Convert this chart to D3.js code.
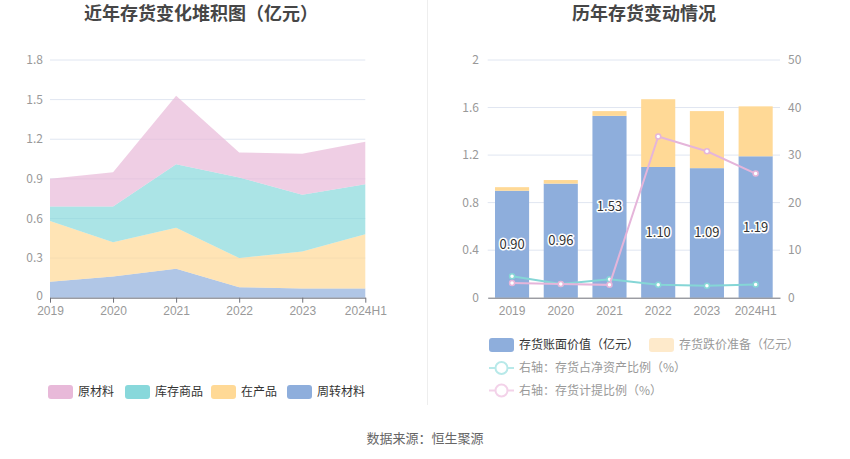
<!DOCTYPE html>
<html><head><meta charset="utf-8">
<script src="https://cdn.jsdelivr.net/npm/d3@7"></script>
<style>
html,body{margin:0;padding:0;background:#fff;}
svg{display:block;font-family:"Noto Sans CJK SC","Noto Sans",sans-serif;}
</style></head>
<body>
<svg id="c" width="850" height="459"></svg>
<script>
// ---- data ----
const years = ["2019","2020","2021","2022","2023","2024H1"];
// left stacked chart (亿元)
const zhouzhuan = [0.12,0.16,0.22,0.08,0.07,0.07];   // 周转材料
const zaichanpin = [0.46,0.26,0.31,0.22,0.28,0.41];  // 在产品
const kucun = [0.11,0.27,0.48,0.61,0.43,0.38];       // 库存商品
const yuancailiao = [0.21,0.26,0.52,0.19,0.31,0.32]; // 原材料
const leftTicks = [0,0.3,0.6,0.9,1.2,1.5,1.8];
// right chart
const bookValue = [0.90,0.96,1.53,1.10,1.09,1.19];   // 存货账面价值
const reserve = [0.03,0.03,0.04,0.57,0.48,0.42];     // 存货跌价准备
const ratioNetAsset = [4.5,2.9,3.9,2.7,2.5,2.8];      // 存货占净资产比例
const ratioReserve = [3.1,2.9,2.7,33.9,30.8,26.1];    // 存货计提比例
const rightTicksL = [0,0.4,0.8,1.2,1.6,2];
const rightTicksR = [0,10,20,30,40,50];

const svg = d3.select("#c");
const gridC = "#e0e6f1", axisC = "#6e7079", labC = "#999";

// titles
svg.append("text").attr("x",201).attr("y",20).attr("text-anchor","middle")
  .attr("font-size",18).attr("font-weight","bold").attr("fill","#464646").text("近年存货变化堆积图（亿元）");
svg.append("text").attr("x",644).attr("y",20).attr("text-anchor","middle")
  .attr("font-size",18).attr("font-weight","bold").attr("fill","#464646").text("历年存货变动情况");

// divider
svg.append("line").attr("x1",427.5).attr("x2",427.5).attr("y1",0).attr("y2",405).attr("stroke","#eeeeee");

// ---- left chart ----
const xL = d3.scalePoint().domain(years).range([50,365.3]);
const yL = d3.scaleLinear().domain([0,1.8]).range([297.7,60]);
const gL = svg.append("g");
gL.selectAll(".grid").data(leftTicks.slice(1)).join("line")
  .attr("x1",50).attr("x2",365.3).attr("y1",d=>yL(d)).attr("y2",d=>yL(d)).attr("stroke",gridC);
gL.selectAll(".yl").data(leftTicks).join("text")
  .attr("x",43).attr("y",d=>yL(d)-(d===0?2:0)).attr("dy","0.35em").attr("text-anchor","end")
  .attr("font-size",12).attr("fill",labC).text(d=>d);

const layers = [
  {name:"周转材料", vals:zhouzhuan, color:"#8eaedc"},
  {name:"在产品", vals:zaichanpin, color:"#ffd996"},
  {name:"库存商品", vals:kucun, color:"#88d8db"},
  {name:"原材料", vals:yuancailiao, color:"#e8b9d9"}
];
const tbl = years.map((y,i)=>{const o={year:y}; layers.forEach(l=>o[l.name]=l.vals[i]); return o;});
const stack = d3.stack().keys(layers.map(l=>l.name))(tbl);
const area = d3.area().x(d=>xL(d.data.year)).y0(d=>yL(d[0])).y1(d=>yL(d[1]));
gL.selectAll(".area").data(stack).join("path")
  .attr("d",area).attr("fill",(d,i)=>layers[i].color).attr("fill-opacity",0.7);

const axL = d3.axisBottom(xL).tickSize(5).tickSizeOuter(0);
const gax = gL.append("g").attr("transform","translate(0,297.7)").call(axL);
gax.select(".domain").attr("stroke",axisC);
gax.selectAll(".tick line").attr("stroke",axisC);
gax.selectAll(".tick text").attr("fill",labC).attr("font-size",12).attr("y",9).attr("font-family",null);

// left legend
const legL = [
  {name:"原材料", color:"#e8b9d9", x:48},
  {name:"库存商品", color:"#88d8db", x:125},
  {name:"在产品", color:"#ffd996", x:211},
  {name:"周转材料", color:"#8eaedc", x:287}
];
const lg = svg.append("g").selectAll("g").data(legL).join("g").attr("transform",d=>`translate(${d.x},385)`);
lg.append("rect").attr("width",25).attr("height",14).attr("rx",3).attr("fill",d=>d.color);
lg.append("text").attr("x",30).attr("y",7).attr("dy","0.35em").attr("font-size",12).attr("fill","#333").text(d=>d.name);

// ---- right chart ----
const xR = d3.scaleBand().domain(years).range([487.7,780]).paddingInner(0.3).paddingOuter(0.15);
const yR = d3.scaleLinear().domain([0,2]).range([297.7,60]);
const yR2 = d3.scaleLinear().domain([0,50]).range([297.7,60]);
const gR = svg.append("g");
gR.selectAll(".grid").data(rightTicksL.slice(1)).join("line")
  .attr("x1",487.7).attr("x2",780).attr("y1",d=>yR(d)).attr("y2",d=>yR(d)).attr("stroke",gridC);
gR.selectAll(".yl").data(rightTicksL).join("text")
  .attr("x",479).attr("y",d=>yR(d)).attr("dy","0.35em").attr("text-anchor","end")
  .attr("font-size",12).attr("fill",labC).text(d=>d);
gR.selectAll(".yr").data(rightTicksR).join("text")
  .attr("x",788).attr("y",d=>yR2(d)).attr("dy","0.35em").attr("text-anchor","start")
  .attr("font-size",12).attr("fill",labC).text(d=>d);

// bars
gR.selectAll(".bb").data(years).join("rect")
  .attr("x",d=>xR(d)).attr("width",xR.bandwidth())
  .attr("y",(d,i)=>yR(bookValue[i])).attr("height",(d,i)=>yR(0)-yR(bookValue[i]))
  .attr("fill","#8eaedc");
gR.selectAll(".br").data(years).join("rect")
  .attr("x",d=>xR(d)).attr("width",xR.bandwidth())
  .attr("y",(d,i)=>yR(bookValue[i]+reserve[i])).attr("height",(d,i)=>yR(bookValue[i])-yR(bookValue[i]+reserve[i]))
  .attr("fill","#ffd996");

// x axis
const axR = d3.axisBottom(xR).tickSize(0).tickSizeOuter(0);
const gaxR = gR.append("g").attr("transform","translate(0,297.7)").call(axR);
gaxR.select(".domain").attr("stroke",axisC);
gaxR.selectAll(".tick text").attr("fill",labC).attr("font-size",12).attr("y",9).attr("font-family",null);

// lines
const cx = d=>xR(d)+xR.bandwidth()/2;
const lineSeries = [
  {vals:ratioNetAsset, color:"#85d6d6"},
  {vals:ratioReserve, color:"#e5b5da"}
];
lineSeries.forEach(s=>{
  const line = d3.line().x((d,i)=>cx(years[i])).y(d=>yR2(d));
  gR.append("path").datum(s.vals).attr("d",line).attr("fill","none").attr("stroke",s.color).attr("stroke-width",2);
  gR.selectAll(null).data(s.vals).join("circle")
    .attr("cx",(d,i)=>cx(years[i])).attr("cy",d=>yR2(d)).attr("r",2.5)
    .attr("fill","#fff").attr("stroke",s.color).attr("stroke-width",1.5);
});

// bar labels
gR.selectAll(".lbl").data(years).join("text")
  .attr("x",d=>cx(d)).attr("y",(d,i)=>yR(bookValue[i]/2)).attr("dy","0.35em")
  .attr("text-anchor","middle").attr("font-size",13)
  .attr("fill","#333").attr("stroke","#fff").attr("stroke-width",3).attr("paint-order","stroke")
  .attr("stroke-linejoin","round")
  .text((d,i)=>bookValue[i].toFixed(2));

// right legend
const lgR = svg.append("g");
lgR.append("rect").attr("x",489).attr("y",338).attr("width",25).attr("height",14).attr("rx",3).attr("fill","#8eaedc");
lgR.append("text").attr("x",519).attr("y",345).attr("dy","0.35em").attr("font-size",12).attr("fill","#333").text("存货账面价值（亿元）");
lgR.append("rect").attr("x",649).attr("y",338).attr("width",25).attr("height",14).attr("rx",3).attr("fill","#feeacb");
lgR.append("text").attr("x",679).attr("y",345).attr("dy","0.35em").attr("font-size",12).attr("fill","#999").text("存货跌价准备（亿元）");
const lineLeg = [
  {y:368, color:"#b8e9e9", text:"右轴：存货占净资产比例（%）"},
  {y:390.5, color:"#f3d2e9", text:"右轴：存货计提比例（%）"}
];
lineLeg.forEach(l=>{
  lgR.append("line").attr("x1",489).attr("x2",514).attr("y1",l.y).attr("y2",l.y).attr("stroke",l.color).attr("stroke-width",2);
  lgR.append("circle").attr("cx",501.5).attr("cy",l.y).attr("r",6).attr("fill","#fff").attr("stroke",l.color).attr("stroke-width",2);
  lgR.append("text").attr("x",519).attr("y",l.y).attr("dy","0.35em").attr("font-size",12).attr("fill","#999").text(l.text);
});

// source
svg.append("text").attr("x",425).attr("y",438).attr("dy","0.35em").attr("text-anchor","middle")
  .attr("font-size",13).attr("fill","#666").text("数据来源：恒生聚源");
</script>
</body></html>
